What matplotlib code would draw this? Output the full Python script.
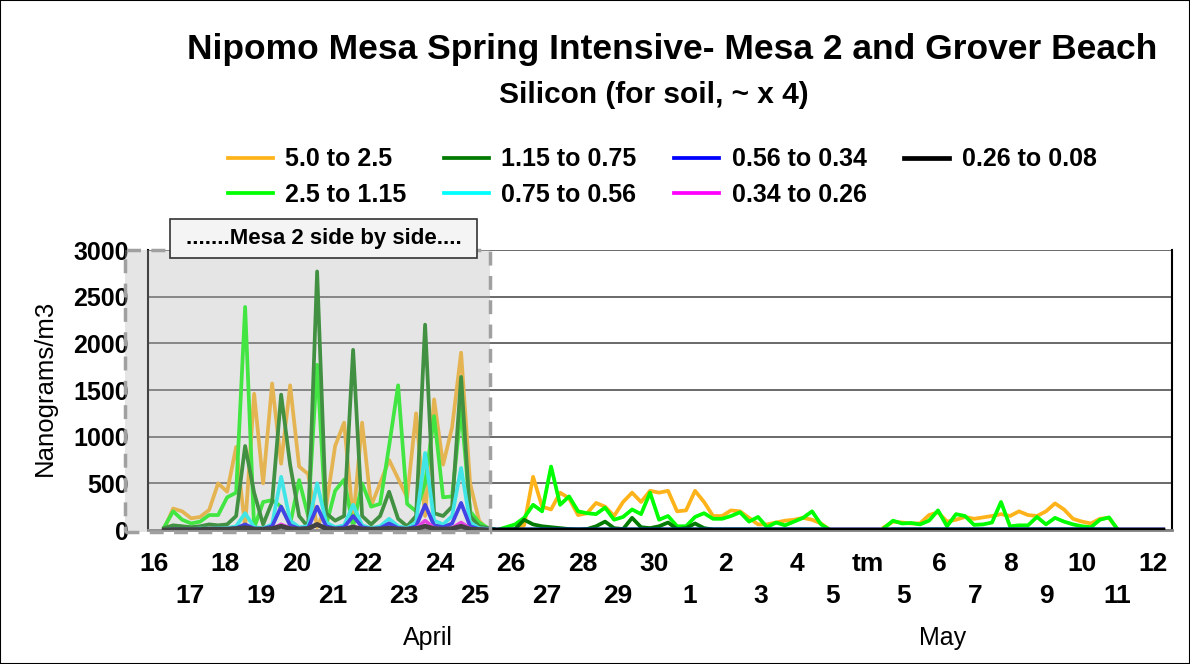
import numpy as np
import matplotlib
matplotlib.use('Agg')
import matplotlib.pyplot as plt
from matplotlib.patches import Rectangle
import matplotlib.transforms as mtransforms

plt.rcParams['font.family'] = ['Liberation Sans', 'DejaVu Sans']

nan = np.nan

# day labels (one per day, two rows)
day_labels = ['16', '17', '18', '19', '20', '21', '22', '23', '24', '25', '26', '27', '28', '29', '30',
              '1', '2', '3', '4', '5', 'tm', '5', '6', '7', '8', '9', '10', '11', '12']

# samples every 6 hours, the first one a little before the "16" mark
n_pts = 114
t_start = -0.22
step = 0.2521
t = t_start + np.arange(n_pts) * step

s_50_25 = [nan, nan, 10, 230, 200, 125, 140, 215, 500, 410, 890, 30, 1460, 500, 1570, 710, 1550, 680, 600, 30,
           250, 900, 1150, 100, 1150, 260, 500, 750, 550, 350, 1250, 150, 1400, 700, 1100, 1900, 500, 100, 0, 0,
           0, 0, 50, 570, 250, 220, 400, 340, 160, 180, 290, 250, 150, 300, 400, 300, 420, 400, 420, 200,
           210, 420, 300, 150, 150, 210, 200, 130, 60, 60, 80, 100, 110, 130, 110, 70, 0, nan, nan, nan,
           nan, nan, 30, 90, 80, 70, 70, 160, 190, 90, 110, 140, 120, 135, 150, 170, 150, 200, 160, 150,
           200, 285, 220, 120, 90, 70, 120, 130, 0, nan, nan, nan, nan, nan]
s_25_115 = [nan, nan, 30, 200, 110, 70, 90, 160, 160, 350, 400, 2390, 20, 300, 320, 250, 60, 535, 150, 1770,
            50, 420, 540, 30, 500, 250, 280, 900, 1550, 280, 200, 500, 1220, 350, 360, 1300, 200, 80, 20, 0,
            30, 60, 130, 270, 200, 680, 270, 360, 200, 180, 170, 240, 110, 140, 220, 170, 400, 110, 150, 40,
            40, 140, 180, 120, 120, 150, 190, 90, 140, 30, 80, 50, 90, 130, 200, 60, 0, nan, nan, nan,
            nan, nan, 20, 100, 70, 75, 60, 100, 210, 40, 170, 150, 55, 60, 80, 300, 40, 50, 50, 140,
            60, 130, 90, 60, 40, 30, 110, 135, 0, nan, nan, nan, nan, nan]
s_115_075 = [nan, nan, 20, 50, 40, 30, 40, 60, 50, 60, 150, 900, 400, 60, 300, 1450, 700, 150, 30, 2770,
             180, 100, 150, 1930, 150, 60, 150, 410, 120, 40, 150, 2200, 180, 150, 250, 1640, 150, 40, 20, 0,
             0, 10, 110, 60, 40, 30, 20, 10, 5, 10, 40, 90, 20, 10, 130, 30, 20, 40, 80, 10,
             20, 70, 20, 5, 5, 5, 5, 5, 5, 5, 5, 5, 5, 5, 5, 5, 0, nan, nan, nan,
             nan, nan, 0, 5, 5, 5, 5, 5, 5, 5, 5, 5, 5, 5, 5, 5, 5, 5, 5, 5,
             5, 5, 5, 5, 5, 5, 5, 5, 0, nan, nan, nan, nan, nan]
s_075_056 = [nan, nan, 0, 10, 10, 10, 15, 15, 20, 20, 40, 180, 30, 20, 60, 570, 100, 30, 40, 500,
             80, 30, 50, 270, 50, 20, 40, 120, 40, 20, 80, 825, 100, 60, 150, 665, 80, 20, 10, 0,
             0, 0, 5, 5, 5, 5, 5, 5, 5, 5, 5, 5, 5, 5, 5, 5, 5, 5, 5, 5,
             5, 5, 5, 5, 5, 5, 5, 5, 5, 5, 5, 5, 5, 5, 5, 5, 0, 0, 0, 0,
             0, 0, 0, 5, 5, 5, 5, 5, 5, 5, 5, 5, 5, 5, 5, 5, 5, 5, 5, 5,
             5, 5, 5, 5, 5, 5, 5, 5, 0, 0, 0, 0, 0, 0]
s_056_034 = [nan, nan, 0, 5, 5, 5, 5, 10, 10, 10, 20, 60, 15, 10, 40, 250, 50, 15, 20, 250,
             40, 15, 30, 150, 30, 10, 20, 70, 20, 10, 40, 270, 50, 30, 70, 290, 40, 10, 5, 5,
             5, 5, 5, 5, 5, 5, 5, 5, 5, 5, 5, 5, 5, 5, 5, 5, 5, 5, 5, 5,
             5, 5, 5, 5, 5, 5, 5, 5, 5, 5, 5, 5, 5, 5, 5, 5, 5, 5, 5, 5,
             5, 5, 5, 5, 5, 5, 5, 5, 5, 5, 5, 5, 5, 5, 5, 5, 5, 5, 5, 5,
             5, 5, 5, 5, 5, 5, 5, 5, 5, 5, 5, 5, 5, 5]
s_034_026 = [nan, nan, 0, 0, 0, 0, 0, 5, 5, 5, 10, 20, 5, 5, 15, 60, 20, 5, 10, 60,
             15, 5, 10, 40, 10, 5, 5, 20, 5, 5, 15, 100, 20, 10, 20, 80, 15, 5, 0, 0,
             0, 0, 0, 0, 0, 0, 0, 0, 0, 0, 0, 0, 0, 0, 0, 0, 0, 0, 0, 0,
             0, 0, 0, 0, 0, 0, 0, 0, 0, 0, 0, 0, 0, 0, 0, 0, 0, 0, 0, 0,
             0, 0, 0, 0, 0, 0, 0, 0, 0, 0, 0, 0, 0, 0, 0, 0, 0, 0, 0, 0,
             0, 0, 0, 0, 0, 0, 0, 0, 0, 0, 0, 0, 0, 0]
s_026_008 = [nan, nan, 0, 5, 5, 5, 5, 10, 10, 10, 15, 25, 10, 10, 15, 40, 15, 10, 15, 60,
             15, 10, 10, 30, 10, 10, 10, 20, 10, 10, 15, 40, 15, 10, 15, 40, 10, 5, 0, 0,
             0, 0, 0, 0, 0, 0, 0, 0, 0, 0, 0, 0, 0, 0, 0, 0, 0, 0, 0, 0,
             0, 0, 0, 0, 0, 0, 0, 0, 0, 0, 0, 0, 0, 0, 0, 0, 0, 0, 0, 0,
             0, 0, 0, 0, 0, 0, 0, 0, 0, 0, 0, 0, 0, 0, 0, 0, 0, 0, 0, 0,
             0, 0, 0, 0, 0, 0, 0, 0, 0, 0, 0, 0, 0, 0]

series = [
    ('5.0 to 2.5', s_50_25, '#ffb31a'),
    ('2.5 to 1.15', s_25_115, '#00ff00'),
    ('1.15 to 0.75', s_115_075, '#007a00'),
    ('0.75 to 0.56', s_075_056, '#00ffff'),
    ('0.56 to 0.34', s_056_034, '#0000ff'),
    ('0.34 to 0.26', s_034_026, '#ff00ff'),
    ('0.26 to 0.08', s_026_008, '#000000'),
]

W, H = 1190, 664
fig = plt.figure(figsize=(W / 100, H / 100), dpi=100)
ax = fig.add_axes([148 / W, 1 - 530 / H, 1024 / W, 280 / H])

for name, vals, col in series:
    lw = 3.4 if col == '#000000' else 2.7
    ax.plot(t, vals, color=col, lw=lw, label=name, zorder=3)

ax.set_xlim(-0.168, 28.52)
ax.set_ylim(0, 3000)
ax.set_yticks(range(0, 3001, 500))
ax.set_yticklabels([str(v) for v in range(0, 3001, 500)], fontsize=18, fontweight='bold')
ax.tick_params(axis='y', length=0, pad=14)
ax.set_xticks([])
ax.grid(axis='y', color='#505050', lw=1.2, zorder=1)
ax.set_axisbelow(True)
for s in ['left', 'right']:
    ax.spines[s].set_color('black')
    ax.spines[s].set_linewidth(1.5)
ax.spines['top'].set_visible(False)
ax.spines['bottom'].set_color('#808080')
ax.spines['bottom'].set_linewidth(2)

# two rows of day labels
trans = mtransforms.blended_transform_factory(ax.transData, fig.transFigure)
for i, lab in enumerate(day_labels):
    y = 1 - 564 / H if i % 2 == 0 else 1 - 596 / H
    ax.text(i, y, lab, transform=trans, ha='center', va='center', fontsize=19, fontweight='bold')

fig.text(428 / W, 1 - 638 / H, 'April', ha='center', va='center', fontsize=18)
fig.text(943 / W, 1 - 638 / H, 'May', ha='center', va='center', fontsize=18)
fig.text(45 / W, 1 - 388 / H, 'Nanograms/m3', rotation=90, ha='center', va='center', fontsize=18.5)

# shaded Mesa 2 side-by-side period
x0, x1 = -0.81, 9.41
ax.add_patch(Rectangle((x0, -25), x1 - x0, 3025, facecolor='#b8b8b8', alpha=0.36,
                       edgecolor='none', zorder=5, clip_on=False))
ax.add_patch(Rectangle((x0, -25), x1 - x0, 3025, facecolor='none', edgecolor='#a0a0a0',
                       lw=2.5, ls=(0, (4, 3)), zorder=6, clip_on=False))
ax.add_patch(Rectangle((0.45, 2913), 8.6, 418, facecolor='#f4f4f4', edgecolor='#333333',
                       lw=1.2, zorder=7, clip_on=False))
ax.text(4.75, 3122, '.......Mesa 2 side by side....', ha='center', va='center',
        fontsize=16, fontweight='bold', zorder=8, clip_on=False)

fig.text(672 / W, 1 - 50 / H, 'Nipomo Mesa Spring Intensive- Mesa 2 and Grover Beach',
         ha='center', va='center', fontsize=25.5, fontweight='bold')
fig.text(654 / W, 1 - 95 / H, 'Silicon (for soil, ~ x 4)',
         ha='center', va='center', fontsize=21.5, fontweight='bold')

fig.legend(loc='center', bbox_to_anchor=(662 / W, 1 - 177 / H), ncol=4, frameon=False,
           prop={'size': 18, 'weight': 'bold'}, handlelength=1.8, columnspacing=1.5,
           labelspacing=0.45, handletextpad=0.5)

fig.patches.append(Rectangle((0, 0), 1, 1, transform=fig.transFigure, fill=False,
                             edgecolor='black', lw=1.5))

fig.savefig('out.png', dpi=100)
